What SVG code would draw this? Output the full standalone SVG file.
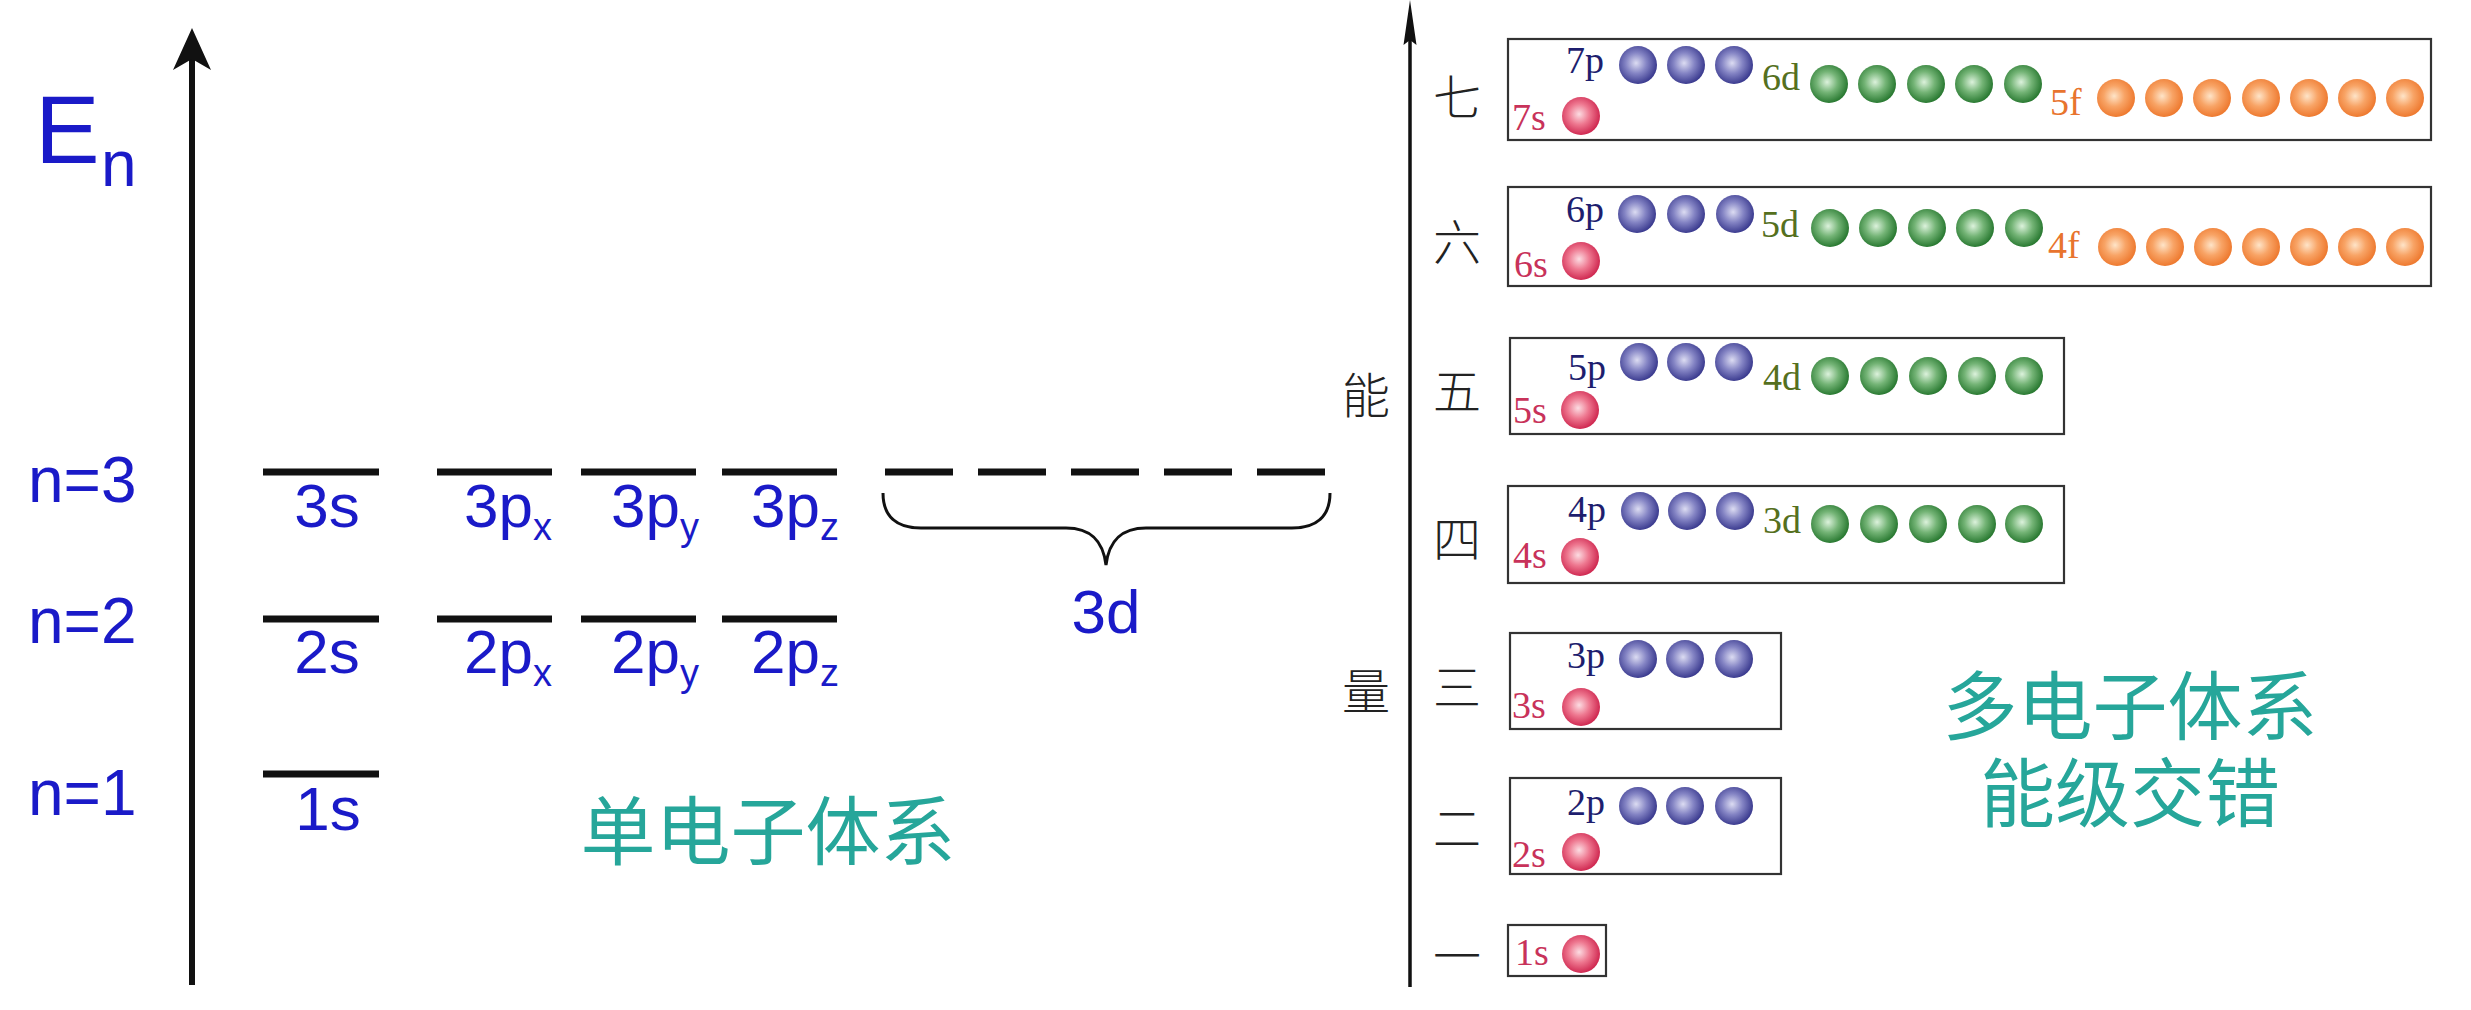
<svg xmlns="http://www.w3.org/2000/svg" width="2471" height="1010" viewBox="0 0 2471 1010">
<style>
.bl{font-family:"Liberation Sans",Arial,sans-serif;fill:#1a1ac8;font-size:62px}
.big{font-size:97px}.nl{font-size:64px}.sub{font-size:38px}
.bar{stroke:#111;stroke-width:7;fill:none}
.teal{font-family:"Noto Sans CJK SC","Noto Sans",sans-serif;fill:#26a69a;font-size:75px;text-anchor:middle}
.cn{font-family:"Noto Sans CJK SC",sans-serif;fill:#222;font-size:48px;font-weight:300;text-anchor:middle}
.box{fill:none;stroke:#333;stroke-width:2.2}
.lb{font-family:"Liberation Serif","Times New Roman",serif;font-size:38px}
.ls{fill:#c8325a}.lp{fill:#1e1e6e}.ld{fill:#55701e}.lf{fill:#e8742e}
.s{fill:url(#gr)}.p{fill:url(#gb)}.d{fill:url(#gg)}.f{fill:url(#go)}
</style>
<defs>
<radialGradient id="gb" cx="0.45" cy="0.45" r="0.55"><stop offset="0" stop-color="#dcdcf2"/><stop offset="0.5" stop-color="#8484c4"/><stop offset="1" stop-color="#3c3c90"/></radialGradient>
<radialGradient id="gr" cx="0.45" cy="0.45" r="0.55"><stop offset="0" stop-color="#fcdce2"/><stop offset="0.5" stop-color="#ee7890"/><stop offset="1" stop-color="#d02a52"/></radialGradient>
<radialGradient id="gg" cx="0.45" cy="0.45" r="0.55"><stop offset="0" stop-color="#dcf2dc"/><stop offset="0.5" stop-color="#74b476"/><stop offset="1" stop-color="#2a7a32"/></radialGradient>
<radialGradient id="go" cx="0.45" cy="0.45" r="0.55"><stop offset="0" stop-color="#fee4c8"/><stop offset="0.5" stop-color="#f8a466"/><stop offset="1" stop-color="#ee7a30"/></radialGradient>
</defs>
<rect width="2471" height="1010" fill="#fff"/>

<g id="connectors">
  <g id="axis-left">
    <line x1="192" y1="985" x2="192" y2="56" stroke="#111" stroke-width="6"/>
    <path d="M192,28 L211,70 L192,59 L173,70 Z" fill="#111"/>
  </g>
  <g id="axis-right">
    <line x1="1410" y1="987" x2="1410" y2="38" stroke="#111" stroke-width="3.5"/>
    <path d="M1410,0 L1416.5,45 L1410,40 L1403.5,45 Z" fill="#111"/>
  </g>
  <path id="brace-3d" d="M883,493 C883,516 896,528 921,528 L1066,528 C1091,528 1103,541 1106,565 C1109,541 1121,528 1146,528 L1292,528 C1317,528 1330,516 1330,493" fill="none" stroke="#111" stroke-width="3"/>
</g>

<g id="title-En">
  <text class="bl big" x="35" y="163">E</text>
  <text class="bl nl" x="101" y="186">n</text>
</g>

<g id="n-labels">
  <text class="bl nl" x="28" y="502">n=3</text>
  <text class="bl nl" x="28" y="643">n=2</text>
  <text class="bl nl" x="28" y="815">n=1</text>
</g>

<g id="level-3s"><line class="bar" x1="263" y1="472" x2="379" y2="472"/><text class="bl" x="327" y="527" text-anchor="middle">3s</text></g>
<g id="level-3px"><line class="bar" x1="437" y1="472" x2="552" y2="472"/><text class="bl" x="464" y="527">3p<tspan class="sub" dy="13">x</tspan></text></g>
<g id="level-3py"><line class="bar" x1="581" y1="472" x2="696" y2="472"/><text class="bl" x="611" y="527">3p<tspan class="sub" dy="13">y</tspan></text></g>
<g id="level-3pz"><line class="bar" x1="722" y1="472" x2="837" y2="472"/><text class="bl" x="751" y="527">3p<tspan class="sub" dy="13">z</tspan></text></g>
<g id="level-3d"><line class="bar" x1="885" y1="472" x2="1327" y2="472" stroke-dasharray="68 25"/><text class="bl" x="1106" y="633" text-anchor="middle">3d</text></g>

<g id="level-2s"><line class="bar" x1="263" y1="619" x2="379" y2="619"/><text class="bl" x="327" y="673" text-anchor="middle">2s</text></g>
<g id="level-2px"><line class="bar" x1="437" y1="619" x2="552" y2="619"/><text class="bl" x="464" y="673">2p<tspan class="sub" dy="13">x</tspan></text></g>
<g id="level-2py"><line class="bar" x1="581" y1="619" x2="696" y2="619"/><text class="bl" x="611" y="673">2p<tspan class="sub" dy="13">y</tspan></text></g>
<g id="level-2pz"><line class="bar" x1="722" y1="619" x2="837" y2="619"/><text class="bl" x="751" y="673">2p<tspan class="sub" dy="13">z</tspan></text></g>

<g id="level-1s"><line class="bar" x1="263" y1="774" x2="379" y2="774"/><text class="bl" x="328" y="830" text-anchor="middle">1s</text></g>

<g id="label-single"><text class="teal" x="768" y="859">单电子体系</text></g>

<g id="axis-label"><text class="cn" x="1366" y="413">能</text><text class="cn" x="1366" y="709">量</text></g>

<g id="shell-labels">
  <text class="cn" x="1457" y="115">七</text>
  <text class="cn" x="1457" y="260">六</text>
  <text class="cn" x="1457" y="409">五</text>
  <text class="cn" x="1457" y="557">四</text>
  <text class="cn" x="1457" y="705">三</text>
  <text class="cn" x="1457" y="846">二</text>
  <text class="cn" x="1457" y="974">一</text>
</g>

<g id="group-7">
  <rect class="box" x="1508" y="39" width="923" height="101"/>
  <text class="lb lp" x="1566" y="73">7p</text><text class="lb ls" x="1512" y="130">7s</text><text class="lb ld" x="1762" y="90">6d</text><text class="lb lf" x="2050" y="115">5f</text>
  <circle class="s" cx="1581" cy="116" r="19"/>
  <circle class="p" cx="1638" cy="65" r="19"/><circle class="p" cx="1686" cy="65" r="19"/><circle class="p" cx="1734" cy="65" r="19"/>
  <circle class="d" cx="1829" cy="84" r="19"/><circle class="d" cx="1877" cy="84" r="19"/><circle class="d" cx="1926" cy="84" r="19"/><circle class="d" cx="1974" cy="84" r="19"/><circle class="d" cx="2023" cy="84" r="19"/>
  <circle class="f" cx="2116" cy="98" r="19"/><circle class="f" cx="2164" cy="98" r="19"/><circle class="f" cx="2212" cy="98" r="19"/><circle class="f" cx="2261" cy="98" r="19"/><circle class="f" cx="2309" cy="98" r="19"/><circle class="f" cx="2357" cy="98" r="19"/><circle class="f" cx="2405" cy="98" r="19"/>
</g>

<g id="group-6">
  <rect class="box" x="1508" y="187" width="923" height="99"/>
  <text class="lb lp" x="1566" y="222">6p</text><text class="lb ls" x="1514" y="277">6s</text><text class="lb ld" x="1761" y="237">5d</text><text class="lb lf" x="2048" y="258">4f</text>
  <circle class="s" cx="1581" cy="261" r="19"/>
  <circle class="p" cx="1637" cy="214" r="19"/><circle class="p" cx="1686" cy="214" r="19"/><circle class="p" cx="1735" cy="214" r="19"/>
  <circle class="d" cx="1830" cy="228" r="19"/><circle class="d" cx="1878" cy="228" r="19"/><circle class="d" cx="1927" cy="228" r="19"/><circle class="d" cx="1975" cy="228" r="19"/><circle class="d" cx="2024" cy="228" r="19"/>
  <circle class="f" cx="2117" cy="247" r="19"/><circle class="f" cx="2165" cy="247" r="19"/><circle class="f" cx="2213" cy="247" r="19"/><circle class="f" cx="2261" cy="247" r="19"/><circle class="f" cx="2309" cy="247" r="19"/><circle class="f" cx="2357" cy="247" r="19"/><circle class="f" cx="2405" cy="247" r="19"/>
</g>

<g id="group-5">
  <rect class="box" x="1510" y="338" width="554" height="96"/>
  <text class="lb lp" x="1568" y="380">5p</text><text class="lb ls" x="1513" y="423">5s</text><text class="lb ld" x="1763" y="390">4d</text>
  <circle class="s" cx="1580" cy="410" r="19"/>
  <circle class="p" cx="1639" cy="362" r="19"/><circle class="p" cx="1686" cy="362" r="19"/><circle class="p" cx="1734" cy="362" r="19"/>
  <circle class="d" cx="1830" cy="376" r="19"/><circle class="d" cx="1879" cy="376" r="19"/><circle class="d" cx="1928" cy="376" r="19"/><circle class="d" cx="1977" cy="376" r="19"/><circle class="d" cx="2024" cy="376" r="19"/>
</g>

<g id="group-4">
  <rect class="box" x="1508" y="486" width="556" height="97"/>
  <text class="lb lp" x="1568" y="522">4p</text><text class="lb ls" x="1513" y="568">4s</text><text class="lb ld" x="1763" y="533">3d</text>
  <circle class="s" cx="1580" cy="557" r="19"/>
  <circle class="p" cx="1640" cy="511" r="19"/><circle class="p" cx="1687" cy="511" r="19"/><circle class="p" cx="1735" cy="511" r="19"/>
  <circle class="d" cx="1830" cy="524" r="19"/><circle class="d" cx="1879" cy="524" r="19"/><circle class="d" cx="1928" cy="524" r="19"/><circle class="d" cx="1977" cy="524" r="19"/><circle class="d" cx="2024" cy="524" r="19"/>
</g>

<g id="group-3">
  <rect class="box" x="1510" y="633" width="271" height="96"/>
  <text class="lb lp" x="1567" y="668">3p</text><text class="lb ls" x="1512" y="718">3s</text>
  <circle class="s" cx="1581" cy="707" r="19"/>
  <circle class="p" cx="1638" cy="659" r="19"/><circle class="p" cx="1685" cy="659" r="19"/><circle class="p" cx="1734" cy="659" r="19"/>
</g>

<g id="group-2">
  <rect class="box" x="1510" y="778" width="271" height="96"/>
  <text class="lb lp" x="1567" y="815">2p</text><text class="lb ls" x="1512" y="867">2s</text>
  <circle class="s" cx="1581" cy="852" r="19"/>
  <circle class="p" cx="1638" cy="806" r="19"/><circle class="p" cx="1685" cy="806" r="19"/><circle class="p" cx="1734" cy="806" r="19"/>
</g>

<g id="group-1">
  <rect class="box" x="1508" y="925" width="98" height="51"/>
  <text class="lb ls" x="1515" y="965">1s</text>
  <circle class="s" cx="1581" cy="954" r="19"/>
</g>

<g id="label-multi">
  <text class="teal" x="2130" y="734">多电子体系</text>
  <text class="teal" x="2130" y="821">能级交错</text>
</g>
</svg>
